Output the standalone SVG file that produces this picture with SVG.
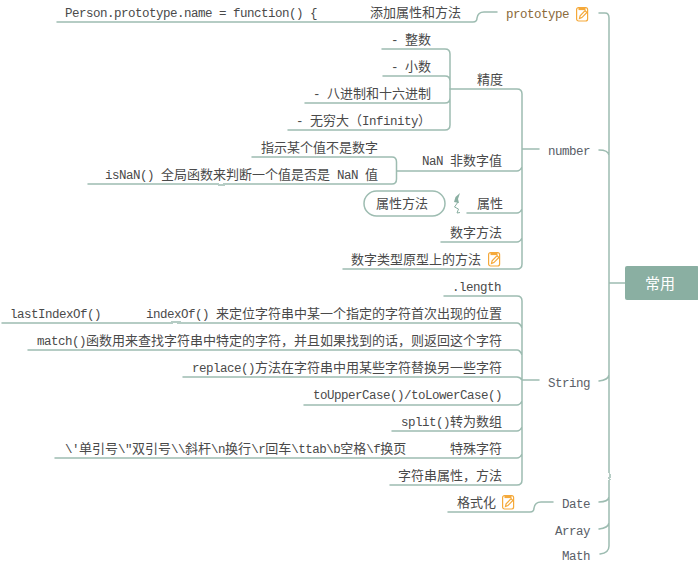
<svg xmlns="http://www.w3.org/2000/svg" width="698" height="564" viewBox="0 0 698 564">
<style>
text{font-family:"Liberation Mono","Noto Sans CJK SC",monospace;font-size:12.5px;letter-spacing:-0.5px;fill:#4a4a4a;white-space:pre}
.c{font-family:"Noto Sans CJK SC","Liberation Sans",sans-serif;font-size:13px;letter-spacing:0}
.b{fill:#5a6068}
.o{fill:#8a6a3a}
.l{fill:none;stroke:#9dbcb1;stroke-width:1.5;stroke-linecap:round;stroke-linejoin:round}
.ic{fill:none;stroke:#f5a93a;stroke-width:1.2}
</style>
<defs>
<filter id="w" filterUnits="userSpaceOnUse" x="0" y="0" width="698" height="564" color-interpolation-filters="sRGB">
<feTurbulence type="fractalNoise" baseFrequency="0.02" numOctaves="1" seed="7"/>
<feDisplacementMap in="SourceGraphic" scale="2" xChannelSelector="R" yChannelSelector="G"/>
</filter>
<g id="note">
<rect class="ic" x="0.6" y="0.6" width="11" height="13.4" rx="2"/>
<rect x="2.5" y="0.5" width="7" height="2.6" fill="#f5a93a"/>
<path class="ic" d="M3.5 11.5l.6-2.6 5-5.2 1.8 1.7-5 5.2z"/>
</g>
</defs>
<rect width="698" height="564" fill="#fff"/>
<g id="connectors" filter="url(#w)">
<path class="l" d="M599 13H605Q609 13 609 18V546Q609 553 600 554M599 150Q608 150 609 155M599 381Q608 380 609 375M599 502Q608 502 609 497M599 529Q608 528 609 523M609 283H625"/>
<path class="l" d="M57 22H473Q477 22 477 18Q478 12 484 12H497"/>
<path class="l" d="M450 89H517Q522 89 522 94V264Q522 269 517 269H343M522 149H539M397 171H517Q520 171 522 167M467 213H517Q520 213 522 209M441 242H517Q520 242 522 238"/>
<path class="l" d="M382 49H445Q450 49 450 54V125Q450 130 445 130H288M383 76H445Q450 76 450 81M305 103H445Q450 103 450 98"/>
<path class="l" d="M252 157H392Q396.500 157 396.500 162V179Q396.500 184 392 184H88"/>
<path class="l" d="M444 296H517Q522 296 522 301V480Q522 485 517 485H390M2 323H517Q520 323 522 328M28 350H517Q520 350 522 355M183 377H517Q520 377 522 380H539M304 405H517Q520 405 522 401M392 431H517Q520 431 522 427M55 458H517Q520 458 522 454"/>
<path class="l" d="M448 512H530Q534 512 534 508Q535 502 541 502H553"/>
</g>
<g id="root"><rect x="625" y="266" width="74" height="34" rx="2" fill="#8aafa2"/><text x="660" y="289" text-anchor="middle" style="font-family:'Noto Sans CJK SC',sans-serif;font-size:15px;letter-spacing:0;fill:#fff">常用</text></g>
<g id="prototype"><text class="o" x="506" y="18">prototype</text><use href="#note" x="576" y="7"/></g>
<g id="number"><text class="b" x="548" y="155">number</text></g>
<g id="string"><text class="b" x="548" y="387">String</text></g>
<g id="date"><text class="b" x="562" y="508">Date</text></g>
<g id="array"><text class="b" x="555" y="535">Array</text></g>
<g id="math"><text class="b" x="562" y="560">Math</text></g>
<g id="n1"><text x="65" y="17">Person.prototype.name = function() {</text></g>
<g id="n2"><text x="370" y="17"><tspan class="c">添加属性和方法</tspan></text></g>
<g id="n3"><text x="477" y="84"><tspan class="c">精度</tspan></text></g>
<g id="n4"><text x="391" y="44">- <tspan class="c">整数</tspan></text></g>
<g id="n5"><text x="391" y="71">- <tspan class="c">小数</tspan></text></g>
<g id="n6"><text x="313" y="98">- <tspan class="c">八进制和十六进制</tspan></text></g>
<g id="n7"><text x="296" y="125">- <tspan class="c">无穷大（</tspan>Infinity<tspan class="c">）</tspan></text></g>
<g id="n8"><text x="422" y="165">NaN <tspan class="c">非数字值</tspan></text></g>
<g id="n9"><text x="261" y="152"><tspan class="c">指示某个值不是数字</tspan></text></g>
<g id="n10"><text x="105" y="179">isNaN() <tspan class="c">全局函数来判断一个值是否是</tspan> NaN <tspan class="c">值</tspan></text></g>
<g id="n11"><text x="477" y="208"><tspan class="c">属性</tspan></text></g>
<g id="n12"><rect class="l" x="364" y="191" width="81" height="25" rx="12.500"/><text x="376" y="208"><tspan class="c">属性方法</tspan></text></g>
<g id="callout"><path d="M460 193L455.500 197L454 202L459 203L458 199Z" fill="#8aafa2"/><path d="M458 202L454.500 207L458.500 209L457 213L460 212.500" fill="none" stroke="#8aafa2" stroke-width="1"/></g>
<g id="n13"><text x="450" y="237"><tspan class="c">数字方法</tspan></text></g>
<g id="n14"><text x="351" y="264"><tspan class="c">数字类型原型上的方法</tspan></text><use href="#note" x="488" y="252"/></g>
<g id="n15"><text x="452" y="291">.length</text></g>
<g id="n16"><text x="10" y="318">lastIndexOf()</text></g>
<g id="n17"><text x="146" y="318">indexOf() <tspan class="c">来定位字符串中某一个指定的字符首次出现的位置</tspan></text></g>
<g id="n18"><text x="37" y="345">match()<tspan class="c">函数用来查找字符串中特定的字符，并且如果找到的话，则返回这个字符</tspan></text></g>
<g id="n19"><text x="192" y="372">replace()<tspan class="c">方法在字符串中用某些字符替换另一些字符</tspan></text></g>
<g id="n20"><text x="313" y="399">toUpperCase()/toLowerCase()</text></g>
<g id="n21"><text x="401" y="426">split()<tspan class="c">转为数组</tspan></text></g>
<g id="n22"><text x="65" y="453">\'<tspan class="c">单引号</tspan>\"<tspan class="c">双引号</tspan>\\<tspan class="c">斜杆</tspan>\n<tspan class="c">换行</tspan>\r<tspan class="c">回车</tspan>\ttab\b<tspan class="c">空格</tspan>\f<tspan class="c">换页</tspan></text></g>
<g id="n23"><text x="450" y="453"><tspan class="c">特殊字符</tspan></text></g>
<g id="n24"><text x="398" y="480"><tspan class="c">字符串属性，方法</tspan></text></g>
<g id="n25"><text x="457" y="507"><tspan class="c">格式化</tspan></text><use href="#note" x="502" y="495"/></g>
</svg>
